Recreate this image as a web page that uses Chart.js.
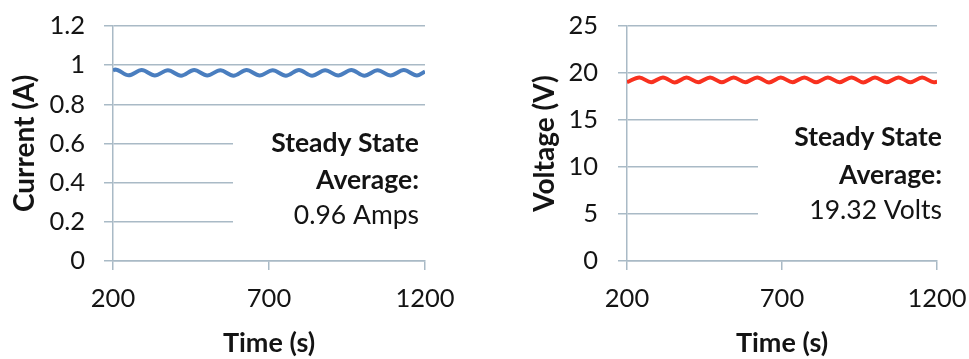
<!DOCTYPE html>
<html>
<head>
<meta charset="utf-8">
<script src="https://cdn.jsdelivr.net/npm/chart.js@4.4.1/dist/chart.umd.min.js"></script>
<style>
	body { margin: 0; background: #fff; }
	.panel { position: absolute; top: 0; height: 359px; }
</style>
</head>
<body>
<div class="panel" style="left:0;width:480px"><canvas id="currentChart" width="480" height="359"></canvas></div>
<div class="panel" style="left:490px;width:479px"><canvas id="voltageChart" width="479" height="359"></canvas></div>
<script>
// time axis ticks shared by both panels
const timeTicks = [200, 700, 1200];

// current trace (A)
const currentTime = [200, 207, 250, 292, 334, 376, 418, 460, 502, 544, 586, 628, 670, 712, 754, 796, 838, 880, 922, 964, 1006, 1048, 1090, 1132, 1174, 1200];
const currentAmps = [0.972, 0.978, 0.948, 0.975, 0.947, 0.974, 0.946, 0.975, 0.947, 0.974, 0.946, 0.975, 0.947, 0.974, 0.946, 0.975, 0.946, 0.974, 0.947, 0.975, 0.946, 0.974, 0.947, 0.975, 0.947, 0.968];

// voltage trace (V)
const voltageTime = [200, 240, 278, 316, 354, 392, 430, 468, 506, 544, 582, 620, 658, 696, 734, 772, 810, 848, 886, 924, 962, 1000, 1038, 1076, 1114, 1152, 1190, 1200];
const voltageVolts = [19.02, 19.52, 19.02, 19.53, 19.0, 19.52, 19.02, 19.53, 19.01, 19.52, 19.02, 19.53, 19.0, 19.52, 19.02, 19.53, 19.01, 19.52, 19.02, 19.53, 19.0, 19.52, 19.02, 19.53, 19.01, 19.52, 19.02, 19.06];

const currentNote = ["Steady State", "Average:", "0.96 Amps"];
const voltageNote = ["Steady State", "Average:", "19.32 Volts"];

const FONT = "Lato";
const GRID = "#a9bac6";
const INK = "#141414";

// white box with the steady-state text, covers the gridlines behind it
const noteBox = {
	id: "noteBox",
	beforeDatasetsDraw(chart, args, opts) {
		const ctx = chart.ctx;
		ctx.save();
		ctx.fillStyle = "#fff";
		ctx.fillRect(opts.box[0], opts.box[1], opts.box[2], opts.box[3]);
		ctx.fillStyle = INK;
		ctx.textAlign = "right";
		ctx.textBaseline = "middle";
		opts.lines.forEach(function (line, i) {
			ctx.font = (i < 2 ? "bold " : "") + opts.size + "px " + FONT;
			ctx.fillText(line, opts.right, opts.ys[i]);
		});
		ctx.restore();
	},
};

function makeChart(id, cfg) {
	const ctx = document.getElementById(id).getContext("2d");
	return new Chart(ctx, {
		type: "line",
		data: {
			datasets: [
				{
					data: cfg.xs.map(function (x, i) { return { x: x, y: cfg.ys[i] }; }),
					borderColor: cfg.color,
					borderWidth: 4,
					pointRadius: 0,
					cubicInterpolationMode: "monotone",
					fill: false,
				},
			],
		},
		options: {
			responsive: false,
			animation: false,
			devicePixelRatio: 1,
			layout: { padding: { top: 26, right: cfg.padRight, bottom: 0, left: 0 } },
			plugins: {
				legend: { display: false },
				tooltip: { enabled: false },
				noteBox: cfg.note,
			},
			scales: {
				x: {
					type: "linear",
					min: 200,
					max: 1200,
					afterBuildTicks: function (scale) {
						scale.ticks = timeTicks.map(function (v) { return { value: v }; });
					},
					afterFit: function (scale) {
						scale.height = 98;
						scale.paddingLeft = 0;
						scale.paddingRight = 0;
					},
					grid: { drawOnChartArea: false, color: GRID, tickLength: 9, lineWidth: 1.5 },
					border: { color: GRID, width: 1.5 },
					ticks: {
						color: INK,
						font: { family: FONT, size: 25.5 },
						padding: 13,
						maxRotation: 0,
						callback: function (v) { return String(v); },
					},
					title: { display: true, text: "Time (s)", color: INK, font: { family: FONT, size: 27, weight: "bold" }, padding: { top: 0, bottom: 0 } },
				},
				y: {
					min: 0,
					max: cfg.yMax,
					afterBuildTicks: function (scale) {
						scale.ticks = cfg.yTicks.map(function (v) { return { value: v }; });
					},
					afterFit: function (scale) {
						scale.width = cfg.yWidth;
						scale.paddingTop = 0;
						scale.paddingBottom = 0;
					},
					grid: { color: GRID, tickLength: 9, lineWidth: 1.5 },
					border: { color: GRID, width: 1.5 },
					ticks: {
						color: INK,
						font: { family: FONT, size: 25.5 },
						padding: cfg.tickPad,
						callback: function (v) { return String(Math.round(v * 10) / 10); },
					},
					title: { display: true, text: cfg.yTitle, color: INK, font: { family: FONT, size: 28, weight: "bold" }, padding: { top: cfg.titlePad, bottom: 0 } },
				},
			},
		},
		plugins: [noteBox],
	});
}

makeChart("currentChart", {
	xs: currentTime,
	ys: currentAmps,
	color: "#4a7ebf",
	yMax: 1.2,
	yTicks: [0, 0.2, 0.4, 0.6, 0.8, 1, 1.2],
	yTitle: "Current (A)",
	yWidth: 113,
	padRight: 55,
	tickPad: 19,
	titlePad: 8,
	note: { box: [233, 118, 200, 116], lines: currentNote, right: 419, ys: [143, 180, 215], size: 26.5 },
});

makeChart("voltageChart", {
	xs: voltageTime,
	ys: voltageVolts,
	color: "#f8311f",
	yMax: 25,
	yTicks: [0, 5, 10, 15, 20, 25],
	yTitle: "Voltage (V)",
	yWidth: 137,
	padRight: 32,
	tickPad: 20,
	titlePad: 38,
	note: { box: [268, 108, 211, 118], lines: voltageNote, right: 452, ys: [137, 175, 210], size: 26.5 },
});
</script>
</body>
</html>
